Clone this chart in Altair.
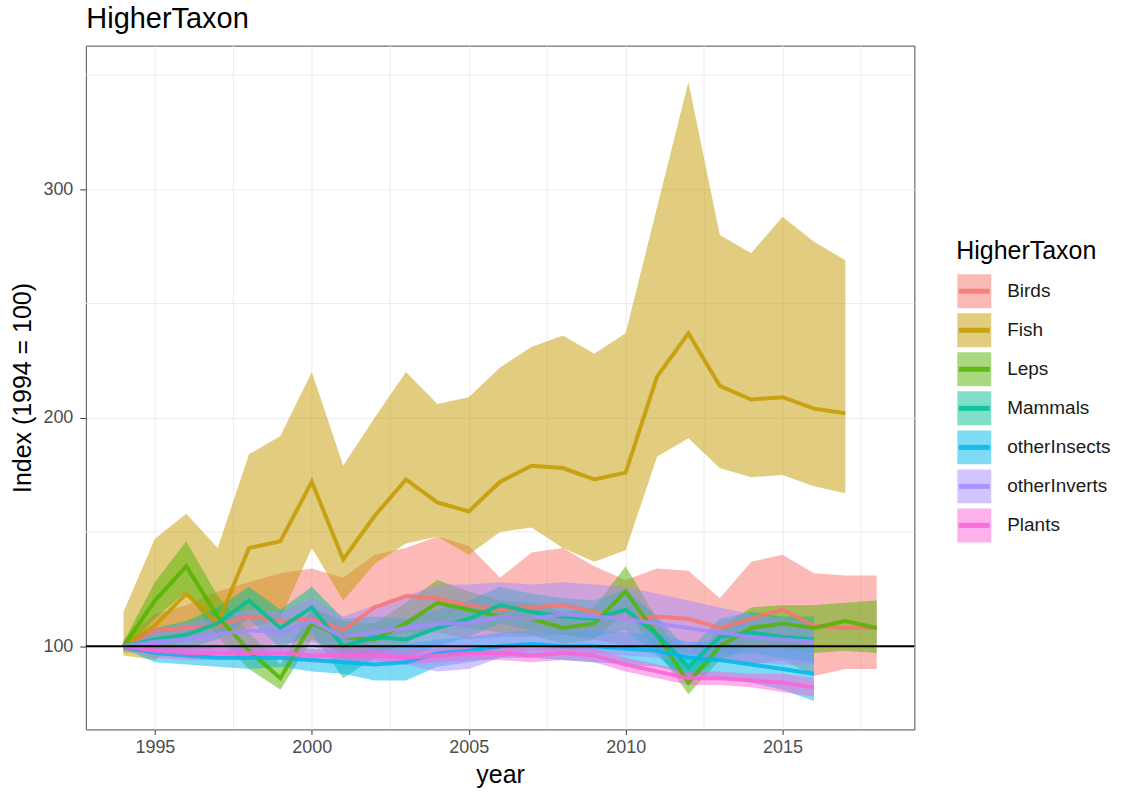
import altair as alt
import pandas as pd

FONT = "Liberation Sans"

years = list(range(1994, 2019))
taxa = ["Birds", "Fish", "Leps", "Mammals", "otherInsects", "otherInverts", "Plants"]
colors = ["#F8766D", "#C49A00", "#53B400", "#00C094", "#00B6EB", "#A58AFF", "#FB61D7"]

birds_mid = [100, 107, 108, 109, 113, 111, 112, 107, 117, 122, 121, 118, 116, 117, 118, 115, 112, 113, 112, 108, 112, 116, 109, 108, 108]
birds_lo = [97, 98, 98, 99, 100, 101, 102, 97, 102, 106, 106, 103, 104, 104, 105, 103, 100, 99, 97, 95, 92, 94, 87, 90, 90]
birds_hi = [103, 114, 118, 124, 128, 132, 134, 130, 140, 143, 148, 144, 130, 141, 143, 135, 129, 134, 133, 121, 137, 140, 132, 131, 131]

fish_mid = [100, 109, 123, 110, 143, 146, 172, 138, 157, 173, 163, 159, 172, 179, 178, 173, 176, 218, 237, 214, 208, 209, 204, 202]
fish_lo = [96, 94, 104, 104, 108, 112, 143, 120, 136, 145, 148, 140, 150, 152, 143, 137, 142, 183, 191, 178, 174, 175, 170, 167]
fish_hi = [115, 147, 158, 143, 184, 192, 220, 179, 200, 220, 206, 209, 222, 231, 236, 228, 237, 292, 347, 280, 272, 288, 277, 269]

leps_mid = [100, 120, 135, 113, 98, 86, 110, 104, 103, 110, 119, 116, 113, 112, 108, 110, 124, 105, 84, 100, 108, 110, 108, 111, 108]
leps_lo = [98, 112, 124, 104, 90, 81, 103, 97, 96, 101, 110, 108, 106, 105, 101, 103, 115, 98, 79, 94, 100, 99, 97, 98, 97]
leps_hi = [102, 128, 146, 122, 106, 92, 117, 111, 110, 119, 129, 124, 120, 119, 115, 117, 135, 112, 90, 108, 117, 118, 118, 119, 120]

mammals_mid = [100, 103, 105, 110, 120, 108, 117, 100, 104, 103, 108, 112, 118, 115, 113, 112, 116, 105, 91, 104, 106, 104, 103]
mammals_lo = [98, 98, 99, 103, 112, 99, 106, 86, 95, 95, 100, 104, 110, 107, 105, 104, 107, 96, 84, 96, 97, 95, 93]
mammals_hi = [102, 108, 111, 117, 126, 116, 126, 112, 113, 112, 116, 120, 126, 123, 121, 120, 125, 113, 98, 112, 115, 113, 113]

insects_mid = [100, 97, 96, 95, 95, 95, 94, 93, 92, 93, 97, 98, 100, 101, 100, 100, 99, 98, 95, 94, 92, 90, 88]
insects_lo = [99, 93, 92, 91, 90, 91, 89, 88, 85, 85, 91, 93, 95, 95, 94, 93, 92, 91, 88, 86, 84, 81, 76]
insects_hi = [101, 101, 100, 99, 100, 99, 99, 98, 99, 101, 103, 104, 106, 107, 106, 107, 106, 105, 102, 102, 100, 99, 100]

inverts_mid = [100, 102, 103, 105, 107, 106, 111, 104, 106, 108, 110, 110, 113, 112, 114, 113, 112, 110, 108, 106, 104, 103, 102]
inverts_lo = [99, 97, 96, 97, 98, 98, 100, 95, 94, 92, 89, 90, 95, 98, 98, 97, 96, 95, 94, 94, 93, 92, 92]
inverts_hi = [101, 107, 110, 113, 116, 115, 121, 113, 118, 122, 127, 127, 128, 127, 128, 127, 126, 123, 120, 117, 114, 112, 110]

plants_mid = [100, 98, 97, 97, 97, 97, 96, 96, 96, 95, 96, 97, 97, 96, 97, 96, 92, 89, 86, 86, 85, 84, 82]
plants_lo = [99, 95, 94, 94, 94, 94, 93, 93, 93, 92, 93, 94, 94, 93, 94, 93, 89, 86, 83, 83, 82, 80, 78]
plants_hi = [101, 101, 100, 100, 100, 100, 99, 99, 99, 98, 99, 100, 100, 99, 100, 99, 95, 92, 89, 89, 88, 88, 86]

x_major = [1995, 2000, 2005, 2010, 2015]
x_minor = [1997.5, 2002.5, 2007.5, 2012.5, 2017.5]
y_major = [100, 200, 300]
y_minor = [150, 250, 350]
ref_value = [100]

series = {
    "Birds": (birds_mid, birds_lo, birds_hi),
    "Fish": (fish_mid, fish_lo, fish_hi),
    "Leps": (leps_mid, leps_lo, leps_hi),
    "Mammals": (mammals_mid, mammals_lo, mammals_hi),
    "otherInsects": (insects_mid, insects_lo, insects_hi),
    "otherInverts": (inverts_mid, inverts_lo, inverts_hi),
    "Plants": (plants_mid, plants_lo, plants_hi),
}

rows = []
for t in taxa:
    mid, lo, hi = series[t]
    for i in range(len(mid)):
        rows.append({"taxon": t, "year": years[i], "mid": mid[i], "lo": lo[i], "hi": hi[i]})
df = pd.DataFrame(rows)

W, H = 830, 685
GRID = "#EBEBEB"

xscale = alt.Scale(domain=[1992.8, 2019.2], nice=False, zero=False)
yscale = alt.Scale(domain=[63.6, 362.9], nice=False, zero=False)
cscale = alt.Scale(domain=taxa, range=colors)

xaxis = alt.Axis(values=x_major, format="d", title="year", grid=True, gridColor=GRID,
                 domain=False, tickColor="#333333", tickSize=5, labelColor="#4D4D4D",
                 labelFontSize=18, labelFont=FONT, labelPadding=4, titleFont=FONT,
                 titleFontSize=25, titleFontWeight="normal", titleColor="black", titlePadding=6)
yaxis = alt.Axis(values=y_major, format="d", title="Index (1994 = 100)", grid=True, gridColor=GRID,
                 domain=False, tickColor="#333333", tickSize=6, labelColor="#4D4D4D",
                 labelFontSize=18, labelFont=FONT, labelPadding=7, titleFont=FONT,
                 titleFontSize=25, titleFontWeight="normal", titleColor="black", titlePadding=7)

vgrid = alt.Chart(pd.DataFrame({"year": x_minor})).mark_rule(color=GRID, strokeWidth=1).encode(
    x=alt.X("year:Q", scale=xscale, axis=xaxis))
hgrid = alt.Chart(pd.DataFrame({"lo": y_minor})).mark_rule(color=GRID, strokeWidth=1).encode(
    y=alt.Y("lo:Q", scale=yscale, axis=yaxis))

base = alt.Chart(df)
areas = base.mark_area(opacity=0.5).encode(
    x=alt.X("year:Q", scale=xscale, axis=xaxis),
    y=alt.Y("lo:Q", scale=yscale, axis=yaxis),
    y2="hi:Q",
    color=alt.Color("taxon:N", scale=cscale, legend=None),
)
lines = base.mark_line(strokeWidth=4, opacity=0.85).encode(
    x=alt.X("year:Q", scale=xscale, axis=xaxis),
    y=alt.Y("mid:Q", scale=yscale, axis=yaxis),
    color=alt.Color("taxon:N", scale=cscale, legend=None),
)
hline = alt.Chart(pd.DataFrame({"lo": ref_value})).mark_rule(color="black", strokeWidth=2).encode(
    y=alt.Y("lo:Q", scale=yscale, axis=yaxis))

main = alt.layer(vgrid, hgrid, areas, lines, hline).properties(
    width=W, height=H, view=alt.ViewBackground(stroke="#4D4D4D", strokeWidth=1))

# custom legend
ldf = pd.DataFrame({"taxon": taxa})
ly = alt.Y("taxon:N", scale=alt.Scale(domain=taxa, range=[226.5, 500.2]), axis=None)
keys = alt.Chart(ldf).mark_square(size=34 * 34, opacity=0.5).encode(
    x=alt.value(17), y=ly, color=alt.Color("taxon:N", scale=cscale, legend=None))
klines = alt.Chart(ldf).mark_tick(orient="horizontal", size=31, thickness=5, opacity=0.85).encode(
    x=alt.value(17), y=ly, color=alt.Color("taxon:N", scale=cscale, legend=None))
labels = alt.Chart(ldf).mark_text(align="left", baseline="middle", fontSize=19, font=FONT,
                                  color="#1A1A1A").encode(x=alt.value(50), y=ly, text="taxon:N")
ltitle = alt.Chart(pd.DataFrame({"t": ["HigherTaxon"]})).mark_text(
    align="left", baseline="alphabetic", fontSize=25, font=FONT, color="black").encode(
    x=alt.value(-1), y=alt.value(214), text="t:N")
legend = alt.layer(keys, klines, labels, ltitle).properties(
    width=160, height=H, view=alt.ViewBackground(strokeOpacity=0))

chart = alt.hconcat(main, legend, spacing=40).properties(
    title=alt.TitleParams("HigherTaxon", anchor="start", fontSize=29, fontWeight="normal",
                          font=FONT, color="black", dx=76, offset=11),
    padding={"left": 10, "top": 4, "right": 5, "bottom": 5},
    background="white",
)

chart.save("out.html", embed_options={"renderer": "svg", "actions": False})
